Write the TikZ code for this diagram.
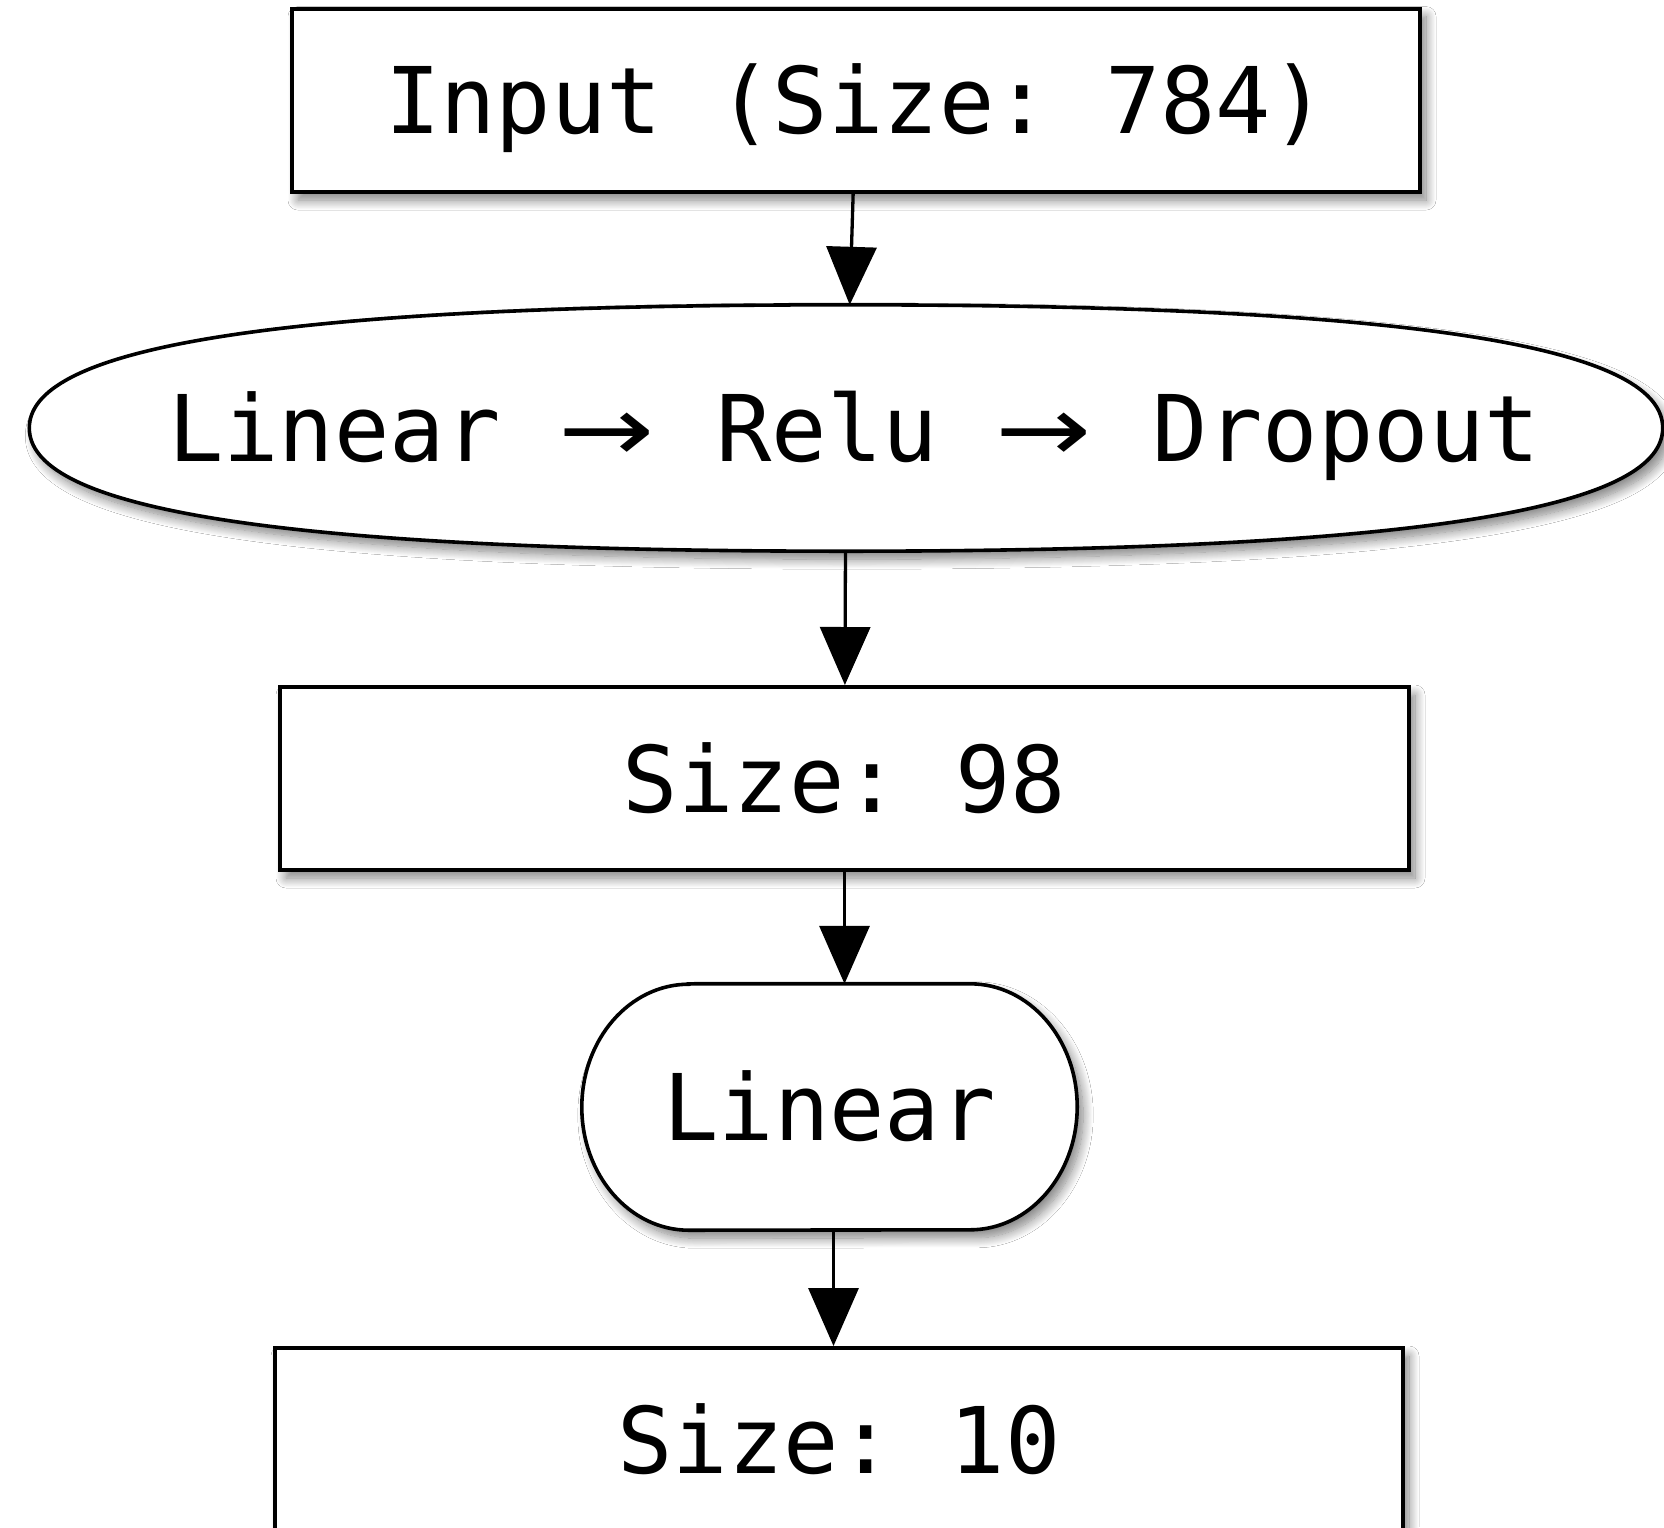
\documentclass[tikz,border=0pt]{standalone}
\usepackage{fontspec}
\setmonofont{DejaVu Sans Mono}
\setsansfont{DejaVu Sans}
\usetikzlibrary{arrows.meta,shadows.blur,backgrounds}
\newcommand{\flowarrow}{\makebox[87pt]{\scalebox{1.25}[1]{\sffamily →}}}
\begin{document}
\begin{tikzpicture}[x=1pt,y=1pt,
  txt/.style={font=\ttfamily\fontsize{92}{110}\selectfont, text height=67pt, text depth=0pt, inner sep=0pt},
  soft/.style={blur shadow={shadow xshift=6pt, shadow yshift=-8pt, shadow blur radius=10pt, shadow blur steps=14, shadow opacity=50}},
  layerbox/.style={txt, rectangle, draw, line width=4pt, fill=white, soft},
  outline/.style={line width=3.6pt, fill=white, soft},
  conn/.style={line width=3.3pt, -{Triangle[length=58pt, width=50pt]}}
]
\useasboundingbox (0,0) rectangle (1664,-1527);

% layer sizes and operations
\node[layerbox, minimum width=1128pt, minimum height=183.5pt] (in) at (856,-100.3) {Input (Size: 784)};
\node[txt, rectangle, minimum width=1633pt, minimum height=246pt] (l1) at (846,-428)
  {\makebox[0pt]{\hspace{16pt}Linear\hspace{63pt}\flowarrow\hspace{66pt}Relu\hspace{62pt}\flowarrow\hspace{65pt}Dropout}};
\node[layerbox, minimum width=1129pt, minimum height=183pt] (b2) at (844.5,-778.5) {Size: 98};
\node[txt, rectangle, minimum width=495pt, minimum height=246pt] (lin) at (829.5,-1107) {Linear};
\node[layerbox, minimum width=1128pt, minimum height=183pt] (b3) at (839,-1439.5) {Size: 10};

% page ground, the full oval and the stadium outline behind their labels
\begin{scope}[on background layer]
  \fill[white] (0,0) rectangle (1664,-1527);
  \draw[outline]
    (l1.west) .. controls ([yshift=74pt]l1.west) and ([xshift=-612pt]l1.north) .. (l1.north)
    .. controls ([xshift=612pt]l1.north) and ([yshift=74pt]l1.east) .. (l1.east)
    .. controls ([yshift=-74pt]l1.east) and ([xshift=612pt]l1.south) .. (l1.south)
    .. controls ([xshift=-612pt]l1.south) and ([yshift=-74pt]l1.west) .. (l1.west) -- cycle;
  \draw[outline]
    ([xshift=107pt]lin.north west) -- ([xshift=-107pt]lin.north east)
    arc[start angle=90, end angle=-90, x radius=107, y radius=123]
    -- ([xshift=107pt]lin.south west)
    arc[start angle=270, end angle=90, x radius=107, y radius=123] -- cycle;
\end{scope}

% connectors
\draw[conn] (in) -- (l1);
\draw[conn] (l1) -- (b2);
\draw[conn] (b2.south) -- (b2.south |- lin.north);
\draw[conn] ([xshift=4pt]lin.south) -- ([xshift=4pt]lin.south |- b3.north);
\end{tikzpicture}
\end{document}
